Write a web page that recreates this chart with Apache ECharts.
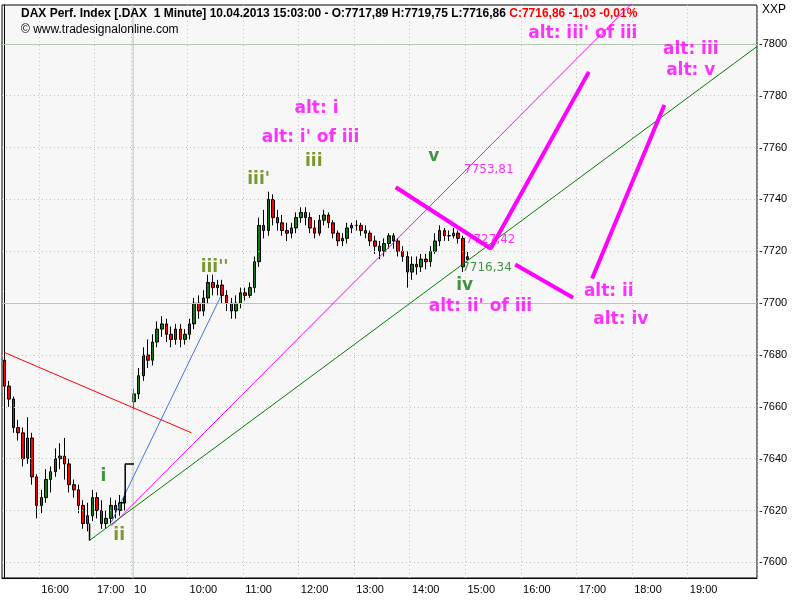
<!DOCTYPE html>
<html><head><meta charset="utf-8">
<script src="https://cdn.jsdelivr.net/npm/echarts@6/dist/echarts.min.js"></script>
<style>html,body{margin:0;padding:0;background:#fff}#c{width:800px;height:600px}</style>
</head><body><div id="c"></div>
<script>
// ---- data ----
const day1Times = ['15:20','15:25','15:30','15:35','15:40','15:45','15:50','15:55','16:00','16:05','16:10','16:15','16:20','16:25','16:30','16:35','16:40','16:45','16:50','16:55','17:00','17:05','17:10','17:15','17:20','17:25','17:30'];
// [open, close, low, high]
const day1Candles = [
[7678,7668,7665,7680],[7668,7663,7660,7670],[7663,7652,7650,7664],[7652,7650,7647,7655],[7650,7640,7637,7652],
[7640,7648,7638,7656],[7648,7633,7630,7650],[7633,7622,7617,7634],[7622,7625,7619,7628],[7625,7632,7623,7636],
[7632,7635,7627,7637],[7635,7640,7633,7644],[7640,7641,7636,7646],[7641,7638,7632,7648],[7638,7630,7627,7640],
[7630,7628,7625,7632],[7628,7622,7619,7630],[7622,7615,7613,7624],[7615,7618,7612,7623],[7618,7625,7616,7628],
[7625,7620,7617,7627],[7620,7615,7613,7624],[7615,7617,7613,7620],[7617,7622,7615,7625],[7622,7620,7617,7624],
[7620,7623,7618,7626],[7623,7625,7620,7627]];
const day2Candles = [
[7662,7665,7659,7667],[7665,7672,7663,7675],[7672,7680,7670,7683],[7680,7678,7675,7686],[7678,7685,7676,7688],
[7685,7690,7683,7693],[7690,7692,7687,7695],[7692,7688,7685,7694],[7688,7686,7683,7691],[7686,7690,7684,7692],
[7690,7686,7683,7692],[7686,7688,7684,7690],[7688,7692,7686,7694],[7692,7700,7690,7702],[7700,7697,7694,7703],
[7697,7702,7695,7705],[7702,7708,7700,7711],[7708,7706,7703,7711],[7706,7707,7703,7709],[7707,7703,7700,7709],
[7703,7700,7697,7705],[7700,7697,7694,7702],[7697,7700,7694,7703],[7700,7704,7698,7706],[7704,7703,7701,7706],
[7703,7706,7702,7708],[7706,7716,7704,7718],[7716,7730,7714,7733],[7730,7728,7725,7736],[7728,7740,7726,7743],
[7740,7733,7730,7742],[7733,7731,7728,7736],[7731,7728,7726,7734],[7728,7727,7724,7731],[7727,7729,7725,7731],
[7729,7733,7727,7735],[7733,7735,7731,7737],[7735,7733,7730,7737],[7733,7729,7727,7735],[7729,7727,7725,7732],
[7727,7732,7726,7734],[7732,7734,7730,7736],[7734,7731,7729,7735],[7731,7727,7725,7732],[7727,7724,7722,7728],
[7724,7725,7722,7727],[7725,7729,7723,7731],[7729,7730,7727,7731],[7730,7730,7728,7732],[7730,7728,7726,7731],
[7728,7727,7725,7730],[7727,7724,7722,7728],[7724,7722,7719,7726],[7722,7720,7717,7724],[7720,7723,7718,7725],
[7723,7726,7721,7727],[7726,7724,7721,7727],[7724,7720,7718,7725],[7720,7718,7716,7722],[7718,7712,7706,7720],
[7712,7715,7709,7718],[7715,7714,7711,7718],[7714,7717,7712,7719],[7717,7716,7713,7719],[7716,7720,7714,7722],
[7720,7724,7719,7727],[7724,7728,7722,7730],[7728,7726,7724,7729],[7726,7726,7724,7728],[7726,7727,7725,7729],
[7727,7725,7723,7728],[7725,7714,7712,7726],[7717.89,7716.86,7716.86,7719.75]];
const yTicks = [7600,7620,7640,7660,7680,7700,7720,7740,7760,7780,7800];
// annotation lines: [[slotIndex, price], ...]
const redLine = [[0,7681],[40.4,7650]];
const blueLine = [[23.1,7615.5],[46.7,7702.5]];
const magentaThin = [[23.1,7614],[135.7,7816]];
const greenLine = [[18.4,7608.5],[162.5,7799]];
const thickA = [[84.5,7744.7],[105.0,7721.1],[126.2,7789.2]];
const thickB = [[110.3,7714.9],[122.8,7702.1]];
const thickC = [[126.9,7709.5],[142.5,7776.4]];
const bracket = [[24.8,7623],[26.1,7623],[26.1,7638],[28.0,7638]];
const iiMark = [[18.4,7615],[18.4,7608.5]];
const dayLine = [[27.8,7590],[27.8,7820]];
// labels: [slot, price, text, kind]
const labels = [
[21.4,7633.3,'i','g'],[24.8,7610.4,'ii','o'],[45.4,7713.7,"iii''",'o'],[54.9,7747.8,"iii'",'o'],
[66.8,7754.7,'iii','o'],[67.4,7774.9,'alt: i','m'],[66.1,7764,"alt: i' of iii",'m'],[92.7,7756.7,'v','g'],
[104.6,7751.3,'7753,81','ms'],[105.0,7724.6,'7727,42','ms'],[104.2,7713.7,'7716,34','gs'],[99.4,7706.8,'iv','g'],
[102.8,7698.7,"alt: ii' of iii",'m'],[124.9,7803.9,"alt: iii' of iii",'m'],[148.2,7797.7,'alt: iii','m'],
[148.2,7789.6,'alt: v','m'],[130.5,7704.4,'alt: ii','m'],[133.1,7693.6,'alt: iv','m']];

// ---- build ----
const day2Times = [];
for (let h = 9; h <= 20; h++) for (let m = 0; m < 60; m += 5) {
  if (h === 20 && m > 10) break;
  day2Times.push(String(h).padStart(2,'0') + ':' + String(m).padStart(2,'0'));
}
const cats = day1Times.map(t => 'a ' + t).concat(['gap']).concat(day2Times.map(t => 'b ' + t));
const candleData = day1Candles.concat(['-']).concat(day2Candles);
while (candleData.length < cats.length) candleData.push('-');
const N = cats.length;
const isHour = (name) => name !== 'gap' && name.endsWith(':00') && name !== 'b 20:00';
const fmtX = (name) => name === 'b 09:00' ? '10' : name.slice(2);

const styles = {
  g: {color:'#137a13', fontSize:17, fontWeight:'bold'},
  o: {color:'#5a7f00', fontSize:17, fontWeight:'bold'},
  m: {color:'#ff00ff', fontSize:17, fontWeight:'bold'},
  ms:{color:'#ff00ff', fontSize:12, fontWeight:'normal'},
  gs:{color:'#137a13', fontSize:12, fontWeight:'normal'}
};
function lineSeries(data, color, width) {
  return {type:'line', xAxisIndex:1, data:data, symbol:'none', silent:true, z:5,
    lineStyle:{color:color, width:width}, animation:false};
}
const font = 'Liberation Sans';
const chart = echarts.init(document.getElementById('c'));
chart.setOption({
  animation:false,
  backgroundColor:'#fff',
  title:{left:16, top:3, text:'{b|DAX Perf. Index [.DAX  1 Minute] 10.04.2013 15:03:00 - O:7717,89 H:7719,75 L:7716,86 }{r|C:7716,86 -1,03 -0,01%}',
    textStyle:{rich:{b:{fontSize:12,color:'#000',fontFamily:font},r:{fontSize:12,color:'#ff0000',fontFamily:font}}},
    subtext:'© www.tradesignalonline.com', subtextStyle:{fontSize:12,color:'#000',fontFamily:font}, itemGap:4},
  graphic:[{type:'text', left:762, top:4, style:{text:'XXP', fontSize:12, fontFamily:font, fill:'#000'}}],
  grid:{left:2, right:43, top:5, bottom:22, show:true, backgroundColor:'#f7f7f7', borderColor:'#000', borderWidth:1},
  xAxis:[{type:'category', data:cats, boundaryGap:true,
    axisLine:{lineStyle:{color:'#000'}},
    axisTick:{interval:(i,n)=>isHour(n), length:4, lineStyle:{color:'#000'}},
    axisLabel:{interval:(i,n)=>isHour(n), formatter:fmtX, align:'left', color:'#000', fontSize:11, fontFamily:font, margin:6},
    splitLine:{show:true, interval:(i,n)=>isHour(n), lineStyle:{color:'#b8c8b8', type:[1,3]}}},
    {type:'value', min:-0.5, max:N-0.5, show:false}],
  yAxis:{type:'value', position:'right', min:7594, max:7815, interval:2, scale:true,
    axisLine:{show:true, lineStyle:{color:'#000'}}, axisTick:{show:false}, splitLine:{show:false},
    axisLabel:{formatter:v => (Math.round(v) % 20 === 0 ? '-' + v : ''), color:'#000', fontSize:11, fontFamily:font, margin:2}},
  series:[
    {type:'candlestick', data:candleData, barWidth:3, z:3,
      itemStyle:{color:'#0a7d0a', color0:'#ff0000', borderColor:'#000', borderColor0:'#000', borderWidth:1},
      markLine:{silent:true, symbol:'none', label:{show:false}, animation:false,
        data: yTicks.map(v => ({yAxis:v, lineStyle: (v===7700||v===7800) ? {color:'#b5c9b5', type:'solid', width:1} : {color:'#b8c8b8', type:[1,3], width:1}}))}},
    lineSeries(dayLine, '#b5c2b5', 1),
    lineSeries(redLine, '#ff0000', 1),
    lineSeries(blueLine, '#4a6fe8', 1),
    lineSeries(magentaThin, '#ff00ff', 1),
    lineSeries(greenLine, '#008000', 1),
    lineSeries(thickA, '#ff00ff', 4),
    lineSeries(thickB, '#ff00ff', 4),
    lineSeries(thickC, '#ff00ff', 4),
    lineSeries(bracket, '#000', 1.5),
    lineSeries(iiMark, '#000', 1.5),
    {type:'scatter', xAxisIndex:1, symbolSize:0, silent:true, z:10,
      data: labels.map(l => ({value:[l[0], l[1]], label:{show:true, position:'inside', formatter:l[2],
        fontFamily:'DejaVu Sans', ...styles[l[3]]}}))}
  ]
});
</script></body></html>
